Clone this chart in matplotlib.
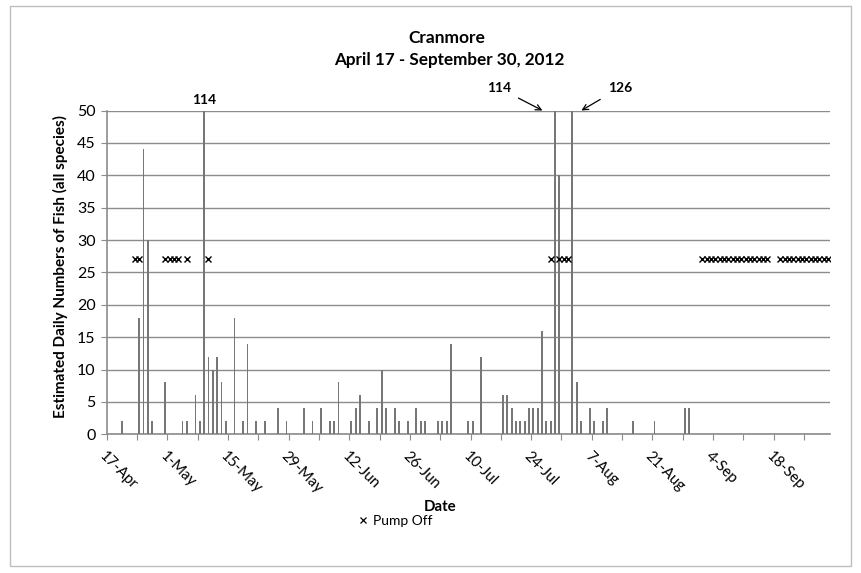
"""
Cranmore daily fish counts, April 17 - September 30, 2012.
Output: out.png
"""
import matplotlib
matplotlib.use("Agg")
import matplotlib.pyplot as plt
import matplotlib.patches as mpatches
from matplotlib.lines import Line2D

plt.rcParams["font.family"] = ["Lato", "DejaVu Sans"]

# days counted from 17-Apr (day 0); season runs to 30-Sep (day 166)
SEASON_DAYS = 167
tick_days = list(range(0, SEASON_DAYS, 7))
label_days = list(range(0, SEASON_DAYS, 14))
date_labels = ["17-Apr", "1-May", "15-May", "29-May", "12-Jun", "26-Jun",
               "10-Jul", "24-Jul", "7-Aug", "21-Aug", "4-Sep", "18-Sep"]

fish_day = [3, 7, 8, 9, 10, 13, 17, 18, 20, 21, 22, 23, 24, 25, 26, 27,
            29, 31, 32, 34, 36, 39, 41, 45, 47, 49, 51, 52, 53,
            56, 57, 58, 60, 62, 63, 64, 66, 67, 69, 71, 72, 73,
            76, 77, 78, 79, 83, 84, 86,
            91, 92, 93, 94, 95, 96, 97, 98, 99, 100, 101, 102, 103, 104,
            107, 108, 109, 111, 112, 114, 115, 121, 126, 133, 134]
fish_count = [2, 18, 44, 30, 2, 8, 2, 2, 6, 2, 114, 12, 10, 12, 8, 2,
              18, 2, 14, 2, 2, 4, 2, 4, 2, 4, 2, 2, 8,
              2, 4, 6, 2, 4, 10, 4, 4, 2, 2, 4, 2, 2,
              2, 2, 2, 14, 2, 2, 12,
              6, 6, 4, 2, 2, 2, 4, 4, 4, 16, 2, 2, 114, 40,
              126, 8, 2, 4, 2, 2, 4, 2, 2, 4, 4]

pump_off_day = [6, 7, 13, 14, 15, 16, 18, 23, 102, 104, 105, 106,
                137, 138, 139, 140, 141, 142, 143, 144, 145, 146, 147, 148,
                149, 150, 151, 152,
                155, 156, 157, 158, 159, 160, 161, 162, 163, 164, 165, 166]
PUMP_OFF_LEVEL = 27

W, H = 862, 573
fig = plt.figure(figsize=(W / 100, H / 100), dpi=100)
ax = fig.add_axes([106.7 / W, 1 - 434.3 / H, (830 - 106.7) / W, (434.3 - 110.5) / H])

# chart border
fig.patches.append(mpatches.Rectangle((10 / W, 1 - 566 / H), 841 / W, 560 / H,
                                      transform=fig.transFigure, fill=False,
                                      edgecolor="#bfbfbf", linewidth=1))

ax.bar([d + 0.5 for d in fish_day], fish_count, width=0.42,
       color="#777777", linewidth=0, zorder=3)
ax.plot([d + 0.5 for d in pump_off_day], [PUMP_OFF_LEVEL] * len(pump_off_day),
        linestyle="none", marker="x", color="black", markersize=3.8,
        markeredgewidth=1.0, zorder=4)

ax.set_xlim(0, SEASON_DAYS)
ax.set_ylim(0, 50)
ax.set_yticks(range(0, 51, 5))
ax.yaxis.grid(True, color="#8c8c8c", linewidth=1)
ax.set_axisbelow(True)

ax.set_xticks(tick_days)
ax.set_xticklabels([date_labels[label_days.index(d)] if d in label_days else ""
                    for d in tick_days],
                   rotation=-45, ha="left", va="top", rotation_mode="anchor",
                   fontsize=10.8)
ax.tick_params(axis="x", length=4, color="#8c8c8c", pad=7)
ax.tick_params(axis="y", length=4, color="#8c8c8c", labelsize=11.5, pad=4)

for side in ["top", "right"]:
    ax.spines[side].set_visible(False)
for side in ["left", "bottom"]:
    ax.spines[side].set_color("#8c8c8c")
    ax.spines[side].set_linewidth(1.2)

# off-scale peaks
ax.text(22.5, 50.7, "114", ha="center", va="bottom", fontsize=10, fontweight="bold")
ax.annotate("114", xy=(100.6, 50), xytext=(90.5, 53.5), ha="center", va="center",
            fontsize=10, fontweight="bold", annotation_clip=False,
            arrowprops=dict(arrowstyle="->", color="black", lw=0.9,
                            shrinkA=4, shrinkB=0))
ax.annotate("126", xy=(109.6, 50), xytext=(118.5, 53.5), ha="center", va="center",
            fontsize=10, fontweight="bold", annotation_clip=False,
            arrowprops=dict(arrowstyle="->", color="black", lw=0.9,
                            shrinkA=4, shrinkB=0))

fig.text(447 / W, 1 - 38 / H, "Cranmore", ha="center", va="center",
         fontsize=12.5, fontweight="bold")
fig.text(449 / W, 1 - 60 / H, "April 17 - September 30, 2012", ha="center",
         va="center", fontsize=12.3, fontweight="bold")
fig.text(440 / W, 1 - 507 / H, "Date", ha="center", va="center",
         fontsize=10.8, fontweight="bold")
fig.text(60 / W, 1 - 266 / H, "Estimated Daily Numbers of Fish (all species)",
         ha="center", va="center", rotation=90, fontsize=11, fontweight="bold")

handle = Line2D([], [], linestyle="none", marker="x", color="black",
                markersize=4, markeredgewidth=0.9)
fig.legend([handle], ["Pump Off"], loc="center", bbox_to_anchor=(394 / W, 1 - 521 / H),
           frameon=False, fontsize=10, handletextpad=0.2, handlelength=1)

fig.savefig("out.png", dpi=100)
plt.close(fig)
